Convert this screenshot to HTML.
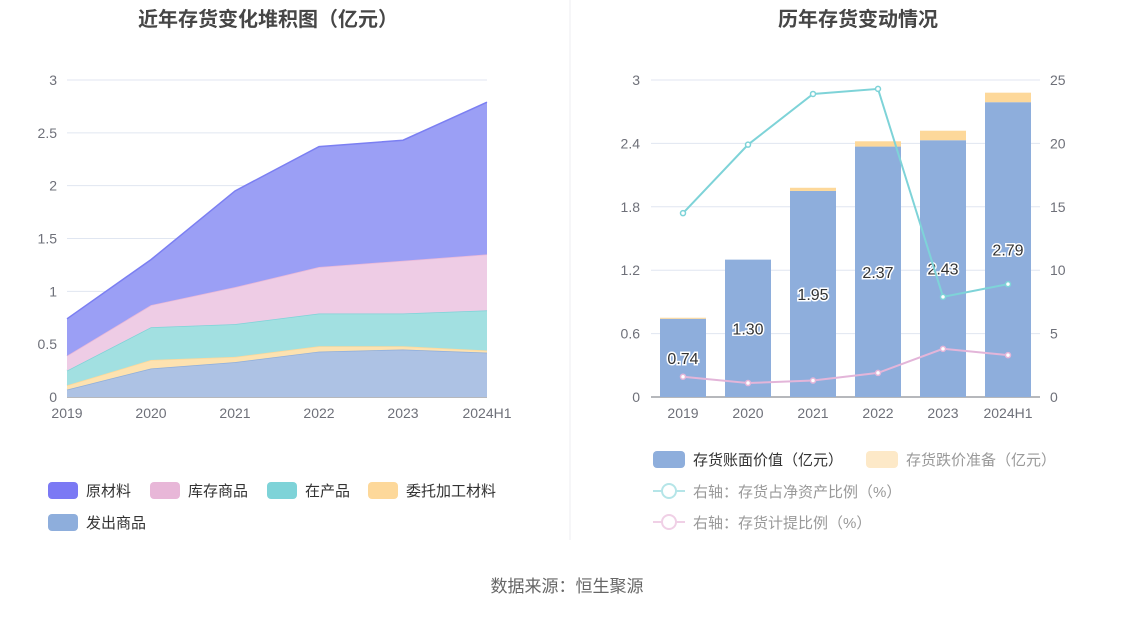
<!DOCTYPE html>
<html><head><meta charset="utf-8"><style>
body{margin:0;background:#fff;width:1134px;height:612px;overflow:hidden;font-family:"Liberation Sans","Noto Sans CJK SC",sans-serif}
svg text{font-family:"Liberation Sans","Noto Sans CJK SC",sans-serif}
</style></head><body>
<svg id="c" width="1134" height="612">
<line x1="570" y1="0" x2="570" y2="540" stroke="#eceef2"/>
<text x="268" y="26" text-anchor="middle" font-size="20" font-weight="bold" fill="#464646">近年存货变化堆积图（亿元）</text>
<text x="858" y="26" text-anchor="middle" font-size="20" font-weight="bold" fill="#464646">历年存货变动情况</text>
<text x="567" y="592" text-anchor="middle" font-size="17" fill="#666">数据来源：恒生聚源</text>
<g id="L"></g><g id="R"></g>
</svg>
<script>
const NS="http://www.w3.org/2000/svg";
function mk(p,t,a,txt){const e=document.createElementNS(NS,t);for(const k in a)e.setAttribute(k,a[k]);if(txt!=null)e.textContent=txt;p.appendChild(e);return e;}
const cats=["2019","2020","2021","2022","2023","2024H1"];
// left stacked values (亿元)
const faChu=[0.07,0.27,0.33,0.43,0.45,0.42];
const weiTuo=[0.04,0.08,0.05,0.05,0.03,0.02];
const zaiChan=[0.14,0.31,0.31,0.31,0.31,0.38];
const kuCun=[0.14,0.21,0.35,0.44,0.50,0.53];
const yuanCai=[0.35,0.43,0.91,1.14,1.14,1.44];
const leftTicks=[0,0.5,1,1.5,2,2.5,3];
// right
const bookVal=[0.74,1.30,1.95,2.37,2.43,2.79];
const reserve=[0.01,0.0,0.03,0.05,0.09,0.09];
const netRatio=[14.5,19.9,23.9,24.3,7.9,8.9];
const provRatio=[1.6,1.1,1.3,1.9,3.8,3.3];
const rTicksL=[0,0.6,1.2,1.8,2.4,3];
const rTicksR=[0,5,10,15,20,25];

const L=document.getElementById('L');
const lx=i=>67+i*84, ly=v=>397-v*(317/3);
leftTicks.forEach(t=>{
  const g=mk(L,'line',{x1:67,x2:487,y1:ly(t),y2:ly(t),stroke:t==0?'#6e7079':'#e0e6f1'});
  
  const tx=mk(L,'text',{x:57,y:ly(t)+5,'text-anchor':'end','font-size':14,fill:'#6e7079'},String(t));
  
});
cats.forEach((c,i)=>{
  const tx=mk(L,'text',{x:lx(i),y:418,'text-anchor':'middle','font-size':14,fill:'#6e7079'},c);
  
});
const series=[[faChu,'#adc2e4','#8eaedc','发出商品'],[weiTuo,'#fde2b0','#fdd89a','委托加工材料'],[zaiChan,'#a2e0e1','#7ed3d8','在产品'],[kuCun,'#eecce5','#e8b7d8','库存商品'],[yuanCai,'#9b9ff5','#7b7ff2','原材料']];
let base=cats.map(()=>0);
series.forEach(([arr,fill,stroke,name])=>{
  const top=base.map((b,i)=>b+arr[i]);
  let d='M'+top.map((v,i)=>lx(i)+','+ly(v)).join('L');
  for(let i=cats.length-1;i>=0;i--)d+='L'+lx(i)+','+ly(base[i]);
  const p=mk(L,'path',{d:d+'Z',fill:fill});
  
  const pl=mk(L,'polyline',{points:top.map((v,i)=>lx(i)+','+ly(v)).join(' '),fill:'none',stroke:stroke,'stroke-width':1.5});
  
  base=top;
});
const leg=[[48,490,'#7b79f4','原材料'],[150,490,'#e8b7d8','库存商品'],[267,490,'#7ed3d8','在产品'],[368,490,'#fdd89a','委托加工材料'],[48,522,'#8eaedc','发出商品']];
leg.forEach(([x,y,c,n])=>{
  const g=mk(L,'g',{});
  mk(g,'rect',{x:x,y:y-8,width:30,height:17,rx:4,fill:c});
  mk(g,'text',{x:x+38,y:y+6,'font-size':15,fill:'#333'},n);
});

const R=document.getElementById('R');
const rx=i=>683+i*65, ry=v=>397-v*(317/3), ry2=v=>397-v*(317/25);
rTicksL.forEach((t,i)=>{
  const g=mk(R,'line',{x1:651,x2:1040,y1:ry(t),y2:ry(t),stroke:t==0?'#6e7079':'#e0e6f1'});
  
  const tx=mk(R,'text',{x:640,y:ry(t)+5,'text-anchor':'end','font-size':14,fill:'#6e7079'},String(t));
  
  const tx2=mk(R,'text',{x:1050,y:ry(t)+5,'font-size':14,fill:'#6e7079'},String(rTicksR[i]));
  
});
cats.forEach((c,i)=>{
  const tx=mk(R,'text',{x:rx(i),y:418,'text-anchor':'middle','font-size':14,fill:'#6e7079'},c);
  
  const b=mk(R,'rect',{x:rx(i)-23,y:ry(bookVal[i]),width:46,height:ry(0)-ry(bookVal[i]),fill:'#8eaedc'});
  
  const r=mk(R,'rect',{x:rx(i)-23,y:ry(bookVal[i]+reserve[i]),width:46,height:ry(bookVal[i])-ry(bookVal[i]+reserve[i]),fill:'#fdd89a'});
  
  const l=mk(R,'text',{x:rx(i),y:ry(bookVal[i]/2)+6,'text-anchor':'middle','font-size':16,fill:'#333',stroke:'#fff','stroke-width':3,'paint-order':'stroke'},bookVal[i].toFixed(2));
  
});
[[netRatio,'#7ed3d8'],[provRatio,'#e3b5d9']].forEach(([arr,c])=>{
  const pl=mk(R,'polyline',{points:arr.map((v,i)=>rx(i)+','+ry2(v)).join(' '),fill:'none',stroke:c,'stroke-width':2});
  
  arr.forEach((v,i)=>{const p=mk(R,'circle',{cx:rx(i),cy:ry2(v),r:2.5,fill:'#fff',stroke:c,'stroke-width':1.5});
    });
});
const rl=[[653,459,'rect','#8eaedc','存货账面价值（亿元）','#333'],[866,459,'rect','#fde9c8','存货跌价准备（亿元）','#999'],[653,491,'line','#b5e5e8','右轴：存货占净资产比例（%）','#999'],[653,522,'line','#f0d0e6','右轴：存货计提比例（%）','#999']];
rl.forEach(([x,y,t,c,n,tc])=>{
  const g=mk(R,'g',{});
  if(t=='rect')mk(g,'rect',{x:x,y:y-8,width:32,height:17,rx:4,fill:c});
  else{mk(g,'line',{x1:x,x2:x+32,y1:y,y2:y,stroke:c,'stroke-width':2});mk(g,'circle',{cx:x+16,cy:y,r:7,fill:'#fff',stroke:c,'stroke-width':2});}
  mk(g,'text',{x:x+40,y:y+6,'font-size':15,fill:tc},n);
});
</script>
</body></html>
